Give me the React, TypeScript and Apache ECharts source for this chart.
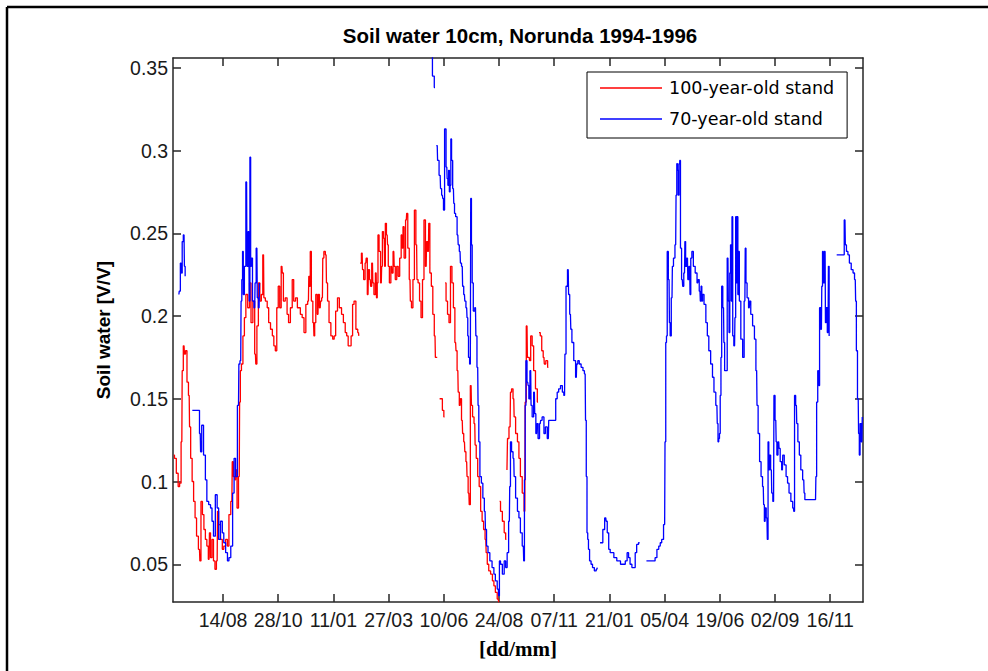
import React, { useEffect, useRef } from 'react';
import * as echarts from 'echarts';

// Days counted from 14/08/1994 (day 0)
const xTickDays = [0, 75, 150, 225, 300, 375, 450, 525, 600, 675, 750, 825];
const xTickLabels = ['14/08', '28/10', '11/01', '27/03', '10/06', '24/08', '07/11', '21/01', '05/04', '19/06', '02/09', '16/11'];
const yTickValues = [0.05, 0.1, 0.15, 0.2, 0.25, 0.3, 0.35];
const yTickLabels = ['0.05', '0.1', '0.15', '0.2', '0.25', '0.3', '0.35'];

const seriesNames = ['100-year-old stand', '70-year-old stand'];

const redDays = [
  -67, -65, -62, -60, -58, -56, -55, -53, -52, -50, -48, -46, -45, -43, -41, -39, -37, -35, -32, -31,
  -29, -27, -25, -23, -21, -19, -18, -16, -14, -12, -10, -8, -7, -5, -2, 0, 2, 5, 7, 9,
  12, 13, 15, 17, 18, 20, 22, 23, 24, 26, 28, 30, 32, 35, 37, 39, 42, 44, 45, 47,
  49, 51, 53, 55, 56, 59, 61, 63, 66, 68, 70, 72, 74, 76, 78, 80, 81, 83, 86, 88,
  90, 93, 95, 97, 100, 102, 104, 106, 109, 111, 114, 116, 117, 118, 119, 121, 123, 124, 125, 127,
  129, 130, 132, 133, 135, 136, 138, 140, 141, 143, 145, 148, 150, 152, 154, 157, 159, 160, 162, 165,
  167, 169, 171, 173, 175, 177, 179, 182, 184, 185, 185.5,
  187, 189, 190, 192, 194, 195, 197, 198, 200, 201, 203, 204, 206, 208, 209, 210, 211, 213, 215, 216,
  217, 219, 220, 221, 223, 224, 225, 227, 229, 230, 232, 233, 235, 237, 239, 241, 243, 244, 245, 247,
  249, 250, 252, 254, 255, 257, 259, 261, 263, 264, 266, 268, 270, 272, 274, 276, 277, 279, 280, 282,
  284, 286, 288, 289, 291, 291.5,
  297, 299, 301, 301.5,
  302, 304, 306, 308, 310, 312, 314, 316, 317, 319, 320, 322, 323, 325, 326, 328, 329, 331, 332, 334,
  335, 337, 338, 340, 342, 343, 345, 347, 349, 351, 353, 355, 357, 358, 360, 362, 365, 367, 369, 371,
  374, 375, 375.5,
  376, 378, 381, 383, 385, 385.5,
  386, 387, 390, 391, 393, 395, 396, 399, 401, 403, 405, 408, 410, 411, 413, 414, 416, 417, 419, 421,
  423, 426, 428, 428.5,
  430, 432, 434, 436, 437, 440, 442
];
const redVals = [
  0.116, 0.114, 0.105, 0.097, 0.099, 0.124, 0.167, 0.182, 0.177, 0.179, 0.160, 0.152, 0.133, 0.114, 0.100, 0.088, 0.078, 0.067, 0.059, 0.052,
  0.088, 0.080, 0.071, 0.065, 0.061, 0.053, 0.069, 0.054, 0.065, 0.052, 0.047, 0.052, 0.082, 0.074, 0.065, 0.059, 0.061, 0.065, 0.061, 0.080,
  0.088, 0.112, 0.103, 0.101, 0.107, 0.084, 0.103, 0.148, 0.167, 0.171, 0.188, 0.199, 0.213, 0.205, 0.220, 0.196, 0.209, 0.177, 0.171, 0.194,
  0.220, 0.209, 0.213, 0.237, 0.211, 0.209, 0.205, 0.196, 0.192, 0.188, 0.182, 0.179, 0.205, 0.218, 0.205, 0.230, 0.226, 0.209, 0.211, 0.201,
  0.196, 0.205, 0.222, 0.209, 0.211, 0.205, 0.205, 0.201, 0.199, 0.190, 0.207, 0.209, 0.224, 0.218, 0.239, 0.209, 0.196, 0.188, 0.196, 0.213,
  0.201, 0.213, 0.205, 0.209, 0.211, 0.235, 0.239, 0.237, 0.220, 0.209, 0.196, 0.188, 0.186, 0.188, 0.203, 0.211, 0.205, 0.205, 0.201, 0.196,
  0.190, 0.188, 0.182, 0.182, 0.188, 0.207, 0.209, 0.192, 0.190, 0.188, null,
  0.232, 0.238, 0.228, 0.222, 0.232, 0.235, 0.213, 0.228, 0.222, 0.218, 0.232, 0.220, 0.213, 0.226, 0.211, 0.220, 0.249, 0.239, 0.220, 0.230,
  0.251, 0.247, 0.230, 0.256, 0.249, 0.243, 0.230, 0.220, 0.230, 0.226, 0.239, 0.230, 0.222, 0.230, 0.224, 0.235, 0.249, 0.241, 0.254, 0.235,
  0.258, 0.262, 0.241, 0.222, 0.209, 0.205, 0.222, 0.264, 0.243, 0.222, 0.220, 0.209, 0.199, 0.222, 0.258, 0.230, 0.245, 0.239, 0.256, 0.226,
  0.218, 0.201, 0.188, 0.175, 0.175, null,
  0.150, 0.143, 0.139, null,
  0.220, 0.209, 0.201, 0.196, 0.230, 0.220, 0.205, 0.184, 0.179, 0.167, 0.154, 0.146, 0.150, 0.137, 0.129, 0.124, 0.118, 0.112, 0.103, 0.093,
  0.086, 0.158, 0.146, 0.139, 0.135, 0.122, 0.114, 0.103, 0.097, 0.082, 0.076, 0.071, 0.065, 0.057, 0.050, 0.046, 0.044, 0.040, 0.037, 0.033,
  0.029, 0.027, null,
  0.088, 0.082, 0.076, 0.069, 0.065, null,
  0.107, 0.126, 0.133, 0.154, 0.156, 0.150, 0.139, 0.129, 0.124, 0.114, 0.103, 0.093, 0.082, 0.148, 0.194, 0.175, 0.175, 0.173, 0.188, 0.182,
  0.167, 0.156, 0.148, null,
  0.190, 0.188, 0.179, 0.175, 0.171, 0.173, 0.169
];

const blueDays = [
  -60, -59, -57, -56, -55, -53, -52, -51, -50.5,
  -33, -31, -30, -28, -25, -23, -21, -18, -16, -14, -12, -9, -7, -5, -2, 0, 2, 5, 7, 9,
  12, 14, 16, 18, 21, 22, 24, 25, 26, 27, 28, 30, 32, 33, 35, 36, 37, 38, 39, 41,
  43, 44, 46, 47, 49, 50, 50.5,
  283, 286, 288, 288.5,
  291, 292, 295, 296, 298, 299, 300, 302, 304, 305, 306, 307, 308, 309, 310, 311, 313, 314, 315, 317,
  319, 320, 322, 323, 325, 326, 328, 329, 331, 332, 333, 334, 336, 337, 338, 339, 341, 343, 344, 346,
  347, 348, 350, 352, 354, 356, 357, 359, 361, 364, 367, 369, 371, 374, 375, 376, 378, 381, 383, 385,
  387, 389, 390, 391, 393, 395, 396, 399, 401, 403, 405, 408, 409, 410, 411, 412, 414, 415, 416, 418,
  419, 421, 423, 424, 426, 427, 429, 431, 432, 435, 437, 439, 442, 443, 445, 448, 451, 453, 455, 457,
  460, 462, 464, 465, 467, 469, 470, 472, 473, 475, 478, 480, 481, 483, 485, 488, 490, 492, 493, 494,
  495, 496, 497, 499, 501, 503, 506, 508, 509, 509.5,
  515, 517, 520, 521, 523, 525, 527, 530, 532, 534, 536, 539, 541, 543, 545, 548, 550, 552, 554, 557,
  559, 561, 563, 566, 566.5,
  584, 586, 588, 591, 593, 595, 597, 600, 601, 602, 603, 604, 606, 607, 608, 610, 611, 613, 615, 616,
  617, 618, 619, 620, 621, 622, 624, 625, 627, 628, 629, 631, 632, 634, 635, 636, 638, 640, 643, 645,
  646, 648, 649, 650, 651, 652, 655, 657, 659, 661, 664, 666, 668, 671, 672, 673, 674, 675, 676, 677,
  678, 680, 681, 682, 684, 686, 687, 688, 689, 690, 691, 692, 693, 695, 696, 697, 698, 699, 700, 701,
  702, 705, 707, 709, 710, 711, 713, 715, 716, 718, 721, 723, 725, 726, 728, 730, 732, 734, 735, 736,
  737, 739, 740, 741, 742, 743, 745, 746, 748, 749, 751, 752, 753, 755, 756, 758, 760, 761, 764, 766,
  768, 770, 773, 775, 776, 777, 779, 780, 782, 784, 786, 789, 790, 791, 798, 805, 806, 807, 809, 810,
  811, 813, 814, 815, 816, 818, 819, 820, 822, 823, 824, 824.5,
  843, 845, 846, 848, 850, 852, 855, 857, 859, 860, 861, 863, 864, 865, 866, 868, 869
];
const blueVals = [
  0.213, 0.215, 0.232, 0.226, 0.245, 0.249, 0.230, 0.224, null,
  0.143, 0.129, 0.118, 0.134, 0.116, 0.101, 0.088, 0.086, 0.084, 0.076, 0.067, 0.092, 0.084, 0.065, 0.076, 0.069, 0.063, 0.057, 0.052, 0.054,
  0.061, 0.093, 0.114, 0.103, 0.146, 0.171, 0.173, 0.209, 0.222, 0.239, 0.213, 0.230, 0.281, 0.230, 0.251, 0.209, 0.296, 0.230, 0.235, 0.209,
  0.205, 0.220, 0.241, 0.211, 0.205, 0.220, null,
  0.365, 0.345, 0.338, null,
  0.303, 0.294, 0.285, 0.277, 0.273, 0.271, 0.264, 0.313, 0.290, 0.283, 0.279, 0.288, 0.275, 0.279, 0.307, 0.294, 0.277, 0.268, 0.262, 0.260,
  0.249, 0.243, 0.239, 0.232, 0.230, 0.218, 0.213, 0.209, 0.205, 0.199, 0.188, 0.175, 0.171, 0.271, 0.243, 0.220, 0.203, 0.205, 0.188, 0.169,
  0.146, 0.124, 0.103, 0.099, 0.090, 0.082, 0.071, 0.061, 0.057, 0.052, 0.048, 0.044, 0.040, 0.035, 0.031, 0.052, 0.050, 0.044, 0.052, 0.048,
  0.057, 0.076, 0.097, 0.124, 0.118, 0.114, 0.103, 0.090, 0.082, 0.078, 0.069, 0.061, 0.052, 0.101, 0.146, 0.173, 0.160, 0.158, 0.150, 0.167,
  0.146, 0.139, 0.154, 0.141, 0.129, 0.135, 0.126, 0.135, 0.137, 0.139, 0.129, 0.133, 0.126, 0.137, 0.137, 0.137, 0.137, 0.150, 0.154, 0.156,
  0.158, 0.154, 0.152, 0.177, 0.218, 0.228, 0.213, 0.201, 0.192, 0.184, 0.173, 0.163, 0.171, 0.173, 0.171, 0.169, 0.167, 0.165, 0.137, 0.103,
  0.069, 0.065, 0.059, 0.052, 0.050, 0.048, 0.046, 0.047, 0.048, null,
  0.063, 0.071, 0.078, 0.076, 0.069, 0.059, 0.057, 0.057, 0.054, 0.054, 0.052, 0.052, 0.050, 0.050, 0.050, 0.052, 0.057, 0.054, 0.050, 0.048,
  0.048, 0.057, 0.062, 0.063, null,
  0.052, 0.052, 0.054, 0.059, 0.061, 0.063, 0.065, 0.074, 0.124, 0.184, 0.188, 0.239, 0.222, 0.196, 0.188, 0.211, 0.230, 0.235, 0.243, 0.273,
  0.292, 0.288, 0.273, 0.292, 0.294, 0.241, 0.222, 0.218, 0.226, 0.245, 0.230, 0.235, 0.222, 0.230, 0.213, 0.235, 0.239, 0.230, 0.226, 0.220,
  0.222, 0.215, 0.209, 0.218, 0.209, 0.213, 0.207, 0.196, 0.188, 0.179, 0.171, 0.163, 0.154, 0.146, 0.135, 0.124, 0.126, 0.129, 0.152, 0.175,
  0.218, 0.205, 0.184, 0.167, 0.167, 0.235, 0.209, 0.190, 0.226, 0.243, 0.209, 0.260, 0.188, 0.182, 0.199, 0.260, 0.220, 0.260, 0.213, 0.239,
  0.209, 0.186, 0.175, 0.209, 0.241, 0.220, 0.211, 0.205, 0.209, 0.201, 0.194, 0.186, 0.167, 0.146, 0.129, 0.112, 0.103, 0.097, 0.086, 0.076,
  0.084, 0.078, 0.065, 0.124, 0.107, 0.116, 0.107, 0.093, 0.088, 0.152, 0.137, 0.124, 0.116, 0.124, 0.120, 0.112, 0.107, 0.116, 0.110, 0.103,
  0.099, 0.093, 0.088, 0.084, 0.082, 0.152, 0.146, 0.135, 0.124, 0.116, 0.107, 0.101, 0.093, 0.089, 0.089, 0.089, 0.103, 0.148, 0.167, 0.158,
  0.205, 0.192, 0.218, 0.239, 0.220, 0.239, 0.196, 0.205, 0.190, 0.230, 0.188, null,
  0.237, 0.258, 0.243, 0.239, 0.237, 0.232, 0.228, 0.226, 0.222, 0.209, 0.179, 0.150, 0.129, 0.116, 0.135, 0.124, 0.139
];

const X_MIN = -68;
const X_MAX = 869.5;
const Y_MIN = 0.0272;
const Y_MAX = 0.3559;

const AXIS_COLOR = '#262626';

export default function App() {
  const ref = useRef<HTMLDivElement>(null);

  useEffect(() => {
    if (!ref.current) return;
    const chart = echarts.init(ref.current, null, { renderer: 'svg' });

    const toData = (days: number[], vals: (number | null)[]) =>
      days.map((d, i) => [d, vals[i] === null ? '-' : vals[i]]);

    const xLabel = (v: number) => {
      const i = xTickDays.findIndex((t) => Math.abs(t - v) < 1e-6);
      return i >= 0 ? xTickLabels[i] : '';
    };
    const yLabel = (v: number) => {
      const i = yTickValues.findIndex((t) => Math.abs(t - v) < 1e-9);
      return i >= 0 ? yTickLabels[i] : '';
    };

    const lineStyle = { color: AXIS_COLOR, width: 1.5 };
    const tickFont = { fontFamily: 'Liberation Sans, Arial, sans-serif', fontSize: 19.5, color: '#1a1a1a' };

    chart.setOption({
      animation: false,
      backgroundColor: '#ffffff',
      title: {
        text: 'Soil water 10cm, Norunda 1994-1996',
        left: 520,
        top: 25,
        textAlign: 'center',
        padding: 0,
        textStyle: {
          fontFamily: 'Liberation Sans, Arial, sans-serif',
          fontWeight: 'bold',
          fontSize: 20.5,
          color: '#000',
        },
      },
      legend: {
        data: seriesNames,
        orient: 'vertical',
        left: 587,
        top: 72,
        icon: 'rect',
        itemWidth: 62,
        itemHeight: 1.5,
        itemGap: 11,
        padding: [6, 13, 9, 13],
        borderColor: '#000',
        borderWidth: 1,
        backgroundColor: '#fff',
        selectedMode: false,
        textStyle: {
          fontFamily: 'DejaVu Sans, sans-serif',
          fontSize: 17.5,
          lineHeight: 20,
          color: '#000',
          padding: [0, 0, 0, 2],
        },
      },
      grid: { left: 173, right: 125, top: 58, bottom: 69, containLabel: false },
      xAxis: [
        {
          type: 'value',
          position: 'bottom',
          min: X_MIN,
          max: X_MAX,
          axisLine: { show: true, onZero: false, lineStyle },
          axisTick: { show: true, inside: true, length: 8, customValues: xTickDays, lineStyle },
          axisLabel: { show: true, customValues: xTickDays, formatter: xLabel, margin: 8, ...tickFont },
          splitLine: { show: false },
          name: '[dd/mm]',
          nameLocation: 'middle',
          nameGap: 36,
          nameTextStyle: {
            fontFamily: 'Liberation Serif, Times New Roman, serif',
            fontWeight: 'bold',
            fontSize: 21,
            color: '#000',
          },
        },
        {
          type: 'value',
          position: 'top',
          min: X_MIN,
          max: X_MAX,
          axisLine: { show: true, onZero: false, lineStyle },
          axisTick: { show: true, inside: true, length: 8, customValues: xTickDays, lineStyle },
          axisLabel: { show: false },
          splitLine: { show: false },
        },
      ],
      yAxis: [
        {
          type: 'value',
          position: 'left',
          min: Y_MIN,
          max: Y_MAX,
          axisLine: { show: true, onZero: false, lineStyle },
          axisTick: { show: true, inside: true, length: 8, customValues: yTickValues, lineStyle },
          axisLabel: { show: true, customValues: yTickValues, formatter: yLabel, margin: 5, ...tickFont },
          splitLine: { show: false },
          name: 'Soil water [V/V]',
          nameLocation: 'middle',
          nameGap: 60,
          nameRotate: 90,
          nameTextStyle: {
            fontFamily: 'Liberation Sans, Arial, sans-serif',
            fontWeight: 'bold',
            fontSize: 19,
            color: '#000',
          },
        },
        {
          type: 'value',
          position: 'right',
          min: Y_MIN,
          max: Y_MAX,
          axisLine: { show: true, onZero: false, lineStyle },
          axisTick: { show: true, inside: true, length: 8, customValues: yTickValues, lineStyle },
          axisLabel: { show: false },
          splitLine: { show: false },
        },
      ],
      series: [
        {
          name: seriesNames[0],
          type: 'line',
          xAxisIndex: 0,
          yAxisIndex: 0,
          data: toData(redDays, redVals),
          step: 'middle',
          showSymbol: false,
          symbol: 'none',
          connectNulls: false,
          clip: true,
          lineStyle: { color: '#ff0000', width: 1.3 },
          itemStyle: { color: '#ff0000' },
        },
        {
          name: seriesNames[1],
          type: 'line',
          xAxisIndex: 0,
          yAxisIndex: 0,
          data: toData(blueDays, blueVals),
          step: 'middle',
          showSymbol: false,
          symbol: 'none',
          connectNulls: false,
          clip: true,
          lineStyle: { color: '#0000ff', width: 1.3 },
          itemStyle: { color: '#0000ff' },
        },
      ],
      graphic: [
        { type: 'line', shape: { x1: 7, y1: 7, x2: 988, y2: 7 }, style: { stroke: '#000', lineWidth: 2.5 } },
        { type: 'line', shape: { x1: 7, y1: 7, x2: 7, y2: 671 }, style: { stroke: '#000', lineWidth: 2.5 } },
      ],
    });

    return () => chart.dispose();
  }, []);

  return (
    <div
      ref={ref}
      style={{ position: 'fixed', left: 0, top: 0, width: 988, height: 671, background: '#ffffff' }}
    />
  );
}
